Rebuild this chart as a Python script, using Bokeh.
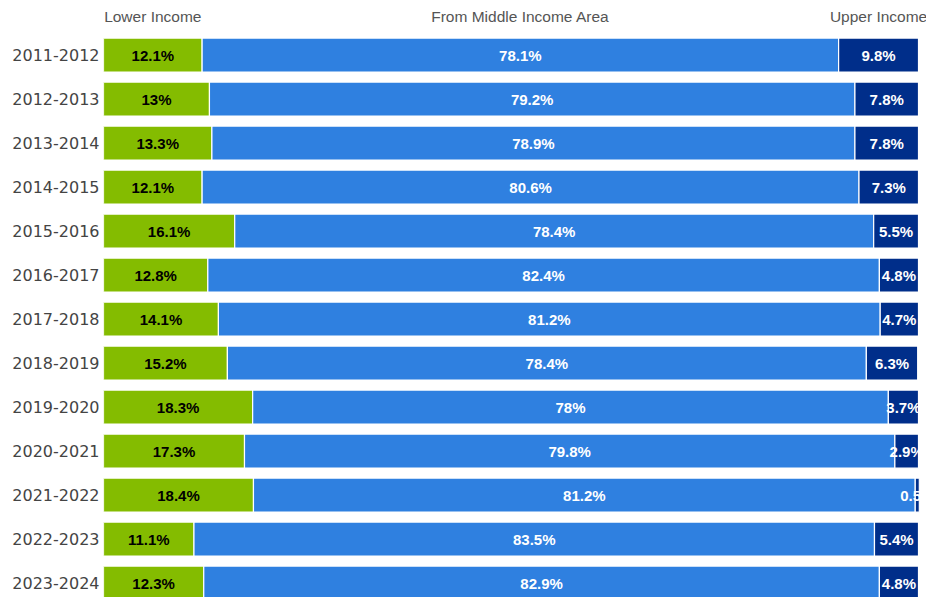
from bokeh.plotting import figure
from bokeh.models import ColumnDataSource, Range1d, FixedTicker
from bokeh.core.properties import value
from bokeh.embed import file_html
from bokeh.resources import INLINE

years = ["2011-2012", "2012-2013", "2013-2014", "2014-2015", "2015-2016",
         "2016-2017", "2017-2018", "2018-2019", "2019-2020", "2020-2021",
         "2021-2022", "2022-2023", "2023-2024"]
lower = [12.1, 13, 13.3, 12.1, 16.1, 12.8, 14.1, 15.2, 18.3, 17.3, 18.4, 11.1, 12.3]
middle = [78.1, 79.2, 78.9, 80.6, 78.4, 82.4, 81.2, 78.4, 78, 79.8, 81.2, 83.5, 82.9]
upper = [9.8, 7.8, 7.8, 7.3, 5.5, 4.8, 4.7, 6.3, 3.7, 2.9, 0.5, 5.4, 4.8]
series_names = ["Lower Income", "From Middle Income Area", "Upper Income"]
colors = ["#84bc00", "#2f80e0", "#002e8a"]
label_colors = ["#000000", "#ffffff", "#ffffff"]

W, H = 926, 597
LEFT = 103
pitch = 44.0
row0 = 54.6
y_top = -row0 / pitch
y_bot = (H - row0) / pitch
frame_w = W - LEFT
full_px = 815.0  # pixels spanned by 100 %

p = figure(width=W, height=H, output_backend="svg", toolbar_location=None,
           x_axis_type=None,
           x_range=Range1d(0, 100 * frame_w / full_px),
           y_range=Range1d(y_bot, y_top))
p.min_border = 0
p.min_border_left = LEFT
p.outline_line_color = None
p.grid.visible = False
p.background_fill_color = "white"
p.border_fill_color = "white"

idx = list(range(len(years)))
series = [lower, middle, upper]
cum = [0.0] * len(years)
for k, vals in enumerate(series):
    left = cum[:]
    right = [a + b for a, b in zip(cum, vals)]
    src = ColumnDataSource(dict(
        y=idx, left=left, right=right,
        mid=[(a + b) / 2 for a, b in zip(left, right)],
        lab=[f"{v:g}%" for v in vals]))
    p.hbar(y="y", left="left", right="right", height=34 / pitch, source=src,
           fill_color=colors[k], line_color="white", line_width=1.2)
    p.text(x="mid", y="y", text="lab", source=src,
           text_font=value("Liberation Sans"), text_font_style="bold",
           text_font_size="15px", text_color=label_colors[k],
           text_align="center", text_baseline="middle")
    cum = right

# series headers above first row, centred on that row's segments
hx = []
c = 0.0
for vals in series:
    hx.append(c + vals[0] / 2)
    c += vals[0]
hsrc = ColumnDataSource(dict(x=hx, y=[0] * 3, t=series_names))
p.text(x="x", y="y", text="t", source=hsrc, y_offset=-39,
       text_font=value("Liberation Sans"), text_font_size="15.5px",
       text_color="#555555", text_align="center", text_baseline="middle")

ax = p.yaxis[0]
ax.ticker = FixedTicker(ticks=idx)
ax.major_label_overrides = {i: y for i, y in zip(idx, years)}
ax.axis_line_color = None
ax.major_tick_line_color = None
ax.minor_tick_line_color = None
ax.major_tick_out = 0
ax.major_tick_in = 0
ax.major_label_standoff = 4
ax.major_label_text_font = "DejaVu Sans"
ax.major_label_text_font_size = "16px"
ax.major_label_text_color = "#444444"

open("out.html", "w").write(file_html(p, INLINE))
